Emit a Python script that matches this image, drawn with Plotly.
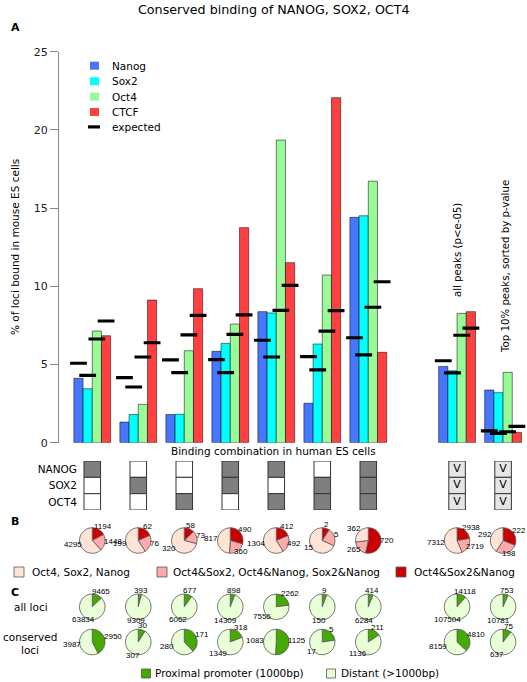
import math
import plotly.graph_objects as go

# ---------------- data ----------------
groups = ["NANOG", "SOX2", "OCT4", "NANOG+SOX2", "NANOG+OCT4", "SOX2+OCT4",
          "NANOG+SOX2+OCT4", "all peaks", "top 10%"]
group_pos = [0, 1, 2, 3, 4, 5, 6, 7.93, 8.93]

nanog = [4.12, 1.32, 1.80, 5.84, 8.38, 2.52, 14.41, 4.88, 3.37]
sox2 = [3.45, 1.80, 1.82, 6.35, 8.30, 6.31, 14.51, 4.60, 3.20]
oct4 = [7.14, 2.45, 5.88, 7.59, 19.35, 10.72, 16.72, 8.27, 4.50]
ctcf = [6.84, 9.12, 9.85, 13.75, 11.51, 22.06, 5.78, 8.38, 0.66]

nanog_exp = [5.08, 4.16, 5.29, 5.31, 6.55, 5.50, 6.71, 5.24, 0.75]
sox2_exp = [4.31, 3.56, 4.48, 4.48, 5.48, 4.65, 5.61, 4.46, 0.60]
oct4_exp = [6.63, 5.48, 6.90, 6.93, 8.46, 7.14, 8.66, 6.87, 0.70]
ctcf_exp = [7.78, 6.39, 8.14, 8.17, 10.06, 8.44, 10.29, 7.33, 1.05]

y_ticks = [0, 5, 10, 15, 20, 25]

row_labels = ["NANOG", "SOX2", "OCT4"]
# 1 = bound, 0 = not bound, 2 = any ("V")
combo = [
    [1, 0, 0], [0, 1, 0], [0, 0, 1], [1, 1, 0], [1, 0, 1], [0, 1, 1], [1, 1, 1],
    [2, 2, 2], [2, 2, 2],
]

b_triple = [1194, 62, 58, 490, 412, 2, 720, 2938, 222]
b_pairs = [1448, 76, 73, 360, 492, 5, 265, 2719, 198]
b_single = [4295, 199, 320, 817, 1304, 15, 362, 7312, 292]
b_labels = ["Oct4&Sox2&Nanog", "Oct4&Sox2, Oct4&Nanog, Sox2&Nanog", "Oct4, Sox2, Nanog"]

c_all_prox = [9465, 393, 677, 898, 2262, 9, 414, 14118, 753]
c_all_dist = [63834, 9309, 6062, 14309, 7556, 150, 6284, 107504, 10781]
c_cons_prox = [2950, 30, 171, 318, 1125, 5, 211, 4810, 75]
c_cons_dist = [3987, 307, 280, 1349, 1083, 17, 1136, 8159, 637]
c_labels = ["Proximal promoter (1000bp)", "Distant (>1000bp)"]

# ---------------- style ----------------
W, H = 527, 682
FONT = "DejaVu Sans"
PIEFONT = "Liberation Sans"
PIE_FS = 8
col_nanog, col_sox2, col_oct4, col_ctcf = "#4876FF", "#00FFFF", "#98FB98", "#FF4040"
col_b = ["#CC0000", "#FFAAAA", "#FFE4D6"]
col_c = ["#44AA00", "#E8FFD8"]

XMIN, XMAX = -0.745, 9.45
AX_L = 58  # px
Y0_PX, Y25_PX = 442.7, 51.7
PIE_R = 12.8


def px_x(v):
    return AX_L + (v - XMIN) / (XMAX - XMIN) * (W - AX_L)


fig = go.Figure()

bar_line = dict(color="rgba(0,0,0,0.5)", width=1)
for name, vals, col in [("Nanog", nanog, col_nanog), ("Sox2", sox2, col_sox2),
                        ("Oct4", oct4, col_oct4), ("CTCF", ctcf, col_ctcf)]:
    fig.add_trace(go.Bar(x=group_pos, y=vals, name=name, marker=dict(color=col, line=bar_line),
                         showlegend=False))

offsets = [-0.3, -0.1, 0.1, 0.3]
for off, vals in zip(offsets, [nanog_exp, sox2_exp, oct4_exp, ctcf_exp]):
    fig.add_trace(go.Scatter(
        x=[p + off for p in group_pos], y=vals, mode="markers", showlegend=False,
        marker=dict(symbol="line-ew", size=12, line=dict(color="black", width=3.2))))

# indicator grid
shapes = []
v_x, v_y = [], []
for gi, pat in enumerate(combo):
    for ri, st in enumerate(pat):
        fill = {0: "white", 1: "#7F7F7F", 2: "#E5E5E5"}[st]
        shapes.append(dict(type="rect", xref="x", yref="y2",
                           x0=group_pos[gi] - 0.18, x1=group_pos[gi] + 0.18,
                           y0=ri - 0.5, y1=ri + 0.5, fillcolor=fill,
                           line=dict(color="#333333", width=1), layer="below"))
        if st == 2:
            v_x.append(group_pos[gi])
            v_y.append(ri)
fig.add_trace(go.Scatter(x=v_x, y=v_y, xaxis="x", yaxis="y2", mode="text", text=["V"] * len(v_x),
                         textfont=dict(family=FONT, size=11, color="black"), showlegend=False))

ann = []


# pies; each value label sits just outside its slice, box touching the rim
def add_pie(values, labels, colors, cx, cy, r=PIE_R):
    fig.add_trace(go.Pie(
        values=values, labels=labels, sort=False, direction="clockwise", rotation=0,
        marker=dict(colors=colors, line=dict(color="#555555", width=0.8)),
        textinfo="none", showlegend=False, hoverinfo="label+value",
        domain=dict(x=[(cx - r) / W, (cx + r) / W], y=[1 - (cy + r) / H, 1 - (cy - r) / H])))
    total = float(sum(values))
    cum = 0.0
    for v in values:
        mid = (cum + v / 2.0) / total * 2 * math.pi
        cum += v
        dx, dy = math.sin(mid), -math.cos(mid)
        w = 0.556 * PIE_FS * len(str(v))
        h = 6.0
        lx = cx + 0.95 * r * dx + dx * w / 2
        ly = cy + 0.95 * r * dy + dy * h / 2 - 1.5
        ann.append(dict(x=lx / W, y=1 - ly / H, xref="paper", yref="paper", text=str(v),
                        showarrow=False, xanchor="center", yanchor="middle",
                        font=dict(family=PIEFONT, size=PIE_FS, color="black")))


for i, p in enumerate(group_pos):
    cx = px_x(p)
    add_pie([b_triple[i], b_pairs[i], b_single[i]], b_labels, col_b, cx, 540.5)
    add_pie([c_all_prox[i], c_all_dist[i]], c_labels, col_c, cx, 606.8)
    add_pie([c_cons_prox[i], c_cons_dist[i]], c_labels, col_c, cx, 642.0)


# ---------------- annotations ----------------
def txt(x, y, s, size=10.5, xanchor="center", bold=False, angle=0, family=FONT, xref="paper", yref="paper"):
    if xref == "paper":
        x = x / W
    if yref == "paper":
        y = 1 - y / H
    ann.append(dict(x=x, y=y, xref=xref, yref=yref, text=("<b>%s</b>" % s) if bold else s,
                    showarrow=False, xanchor=xanchor, yanchor="middle", textangle=angle,
                    font=dict(family=family, size=size, color="black")))


txt(274, 10, "Conserved binding of NANOG, SOX2, OCT4", size=12.7)
txt(15, 28, "A", size=11, bold=True)
txt(15, 521, "B", size=11, bold=True)
txt(15, 592, "C", size=11, bold=True)
txt(15, 247, "% of loci bound in mouse ES cells", size=10.5, angle=-90)
txt(273, 451, "Binding combination in human ES cells", size=10.5)
txt(group_pos[7], (Y0_PX - 250) / 15.64, "all peaks (p<e-05)", size=10.2, angle=-90, xref="x", yref="y")
txt(group_pos[8] + 0.04, (Y0_PX - 266) / 15.64, "Top 10% peaks, sorted by p-value", size=10.2,
    angle=-90, xref="x", yref="y")
txt(31, 607, "all loci")
txt(30, 637, "conserved")
txt(30, 650, "loci")

# legend A
legA = [("Nanog", col_nanog), ("Sox2", col_sox2), ("Oct4", col_oct4), ("CTCF", col_ctcf)]
leg_y = [65.7, 81.2, 96.6, 112.0, 126.9]
for (name, col), yy in zip(legA, leg_y):
    shapes.append(dict(type="rect", xref="paper", yref="paper", x0=90 / W, x1=99 / W,
                       y0=1 - (yy + 4) / H, y1=1 - (yy - 4) / H, fillcolor=col, line=dict(width=0)))
    txt(110, yy, name, xanchor="left")
shapes.append(dict(type="line", xref="paper", yref="paper", x0=88 / W, x1=100 / W,
                   y0=1 - leg_y[4] / H, y1=1 - leg_y[4] / H, line=dict(color="black", width=3.2)))
txt(110, leg_y[4], "expected", xanchor="left")

# legend B
for (x0, tx, lab, col) in [(14, 30, b_labels[2], col_b[2]), (157, 171, b_labels[1], col_b[1]),
                           (396, 411.5, b_labels[0], col_b[0])]:
    shapes.append(dict(type="rect", xref="paper", yref="paper", x0=x0 / W, x1=(x0 + 10) / W,
                       y0=1 - 577 / H, y1=1 - 567 / H, fillcolor=col, line=dict(color="#555555", width=0.8)))
    txt(tx, 572, lab, xanchor="left")

# legend C
for (x0, tx, lab, col) in [(141.5, 153, c_labels[0], col_c[0]), (326.5, 339, c_labels[1], col_c[1])]:
    shapes.append(dict(type="rect", xref="paper", yref="paper", x0=x0 / W, x1=(x0 + 9) / W,
                       y0=1 - 678 / H, y1=1 - 669 / H, fillcolor=col, line=dict(color="#555555", width=0.8)))
    txt(tx, 673.3, lab, xanchor="left")

fig.update_layout(
    width=W, height=H, margin=dict(l=0, r=0, t=0, b=0, autoexpand=False),
    paper_bgcolor="white", plot_bgcolor="white",
    barmode="group", bargap=0.2, bargroupgap=0,
    font=dict(family=FONT, size=11, color="black"),
    xaxis=dict(range=[XMIN, XMAX], domain=[AX_L / W, 1], visible=False, anchor="y", automargin=False),
    yaxis=dict(range=[0, 25], domain=[1 - Y0_PX / H, 1 - Y25_PX / H], tickvals=y_ticks,
               showline=True, linecolor="#888888", linewidth=1.3, ticks="outside", ticklen=8,
               tickcolor="#888888", tickwidth=1.3, showgrid=False, zeroline=False, automargin=False,
               tickfont=dict(family=FONT, size=11, color="#222222"), anchor="free", position=AX_L / W),
    yaxis2=dict(range=[2.5, -0.5], domain=[1 - 510 / H, 1 - 461 / H], tickvals=[0, 1, 2],
                ticktext=row_labels, showgrid=False, zeroline=False, showline=False, ticks="",
                automargin=False,
                tickfont=dict(family=FONT, size=10.5, color="black"), anchor="free", position=77 / W),
    shapes=shapes, annotations=ann,
)

fig.write_html("out.html", config={"displayModeBar": False},
               post_script="document.body.style.margin='0';document.body.style.overflow='hidden';")
